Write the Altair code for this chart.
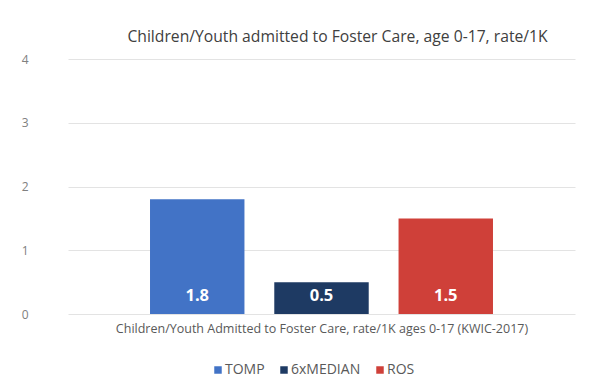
import altair as alt
import pandas as pd

categories = ["TOMP", "6xMEDIAN", "ROS"]
values = [1.8, 0.5, 1.5]
labels = ["1.8", "0.5", "1.5"]
colors = ["#4273C6", "#1E3A63", "#CF4039"]
y_ticks = [0, 1, 2, 3, 4]

df = pd.DataFrame({"cat": categories, "val": values, "lab": labels})

x = alt.X("cat:N", sort=categories,
          scale=alt.Scale(paddingInner=0.24, paddingOuter=0.66),
          axis=alt.Axis(title="Children/Youth Admitted to Foster Care, rate/1K ages 0-17 (KWIC-2017)",
                        labels=False, ticks=False, domain=False))

bars = alt.Chart(df).mark_bar().encode(
    x=x,
    y=alt.Y("val:Q", scale=alt.Scale(domain=[0, 4]),
            axis=alt.Axis(title=None, values=y_ticks, format="d")),
    color=alt.Color("cat:N", sort=categories,
                    scale=alt.Scale(domain=categories, range=colors),
                    legend=alt.Legend(title=None, orient="none", direction="horizontal",
                                      legendX=143, legendY=304,
                                      symbolType="square", symbolSize=56, symbolStrokeWidth=0,
                                      labelFont="Open Sans", labelFontSize=14, labelColor="#595959",
                                      columnPadding=12, labelOffset=0)),
)

text = alt.Chart(df).mark_text(font="Open Sans", fontSize=16.5, fontWeight="bold",
                               color="white", baseline="middle", dy=-18).encode(
    x=alt.X("cat:N", sort=categories),
    y=alt.datum(0),
    text="lab:N",
)

chart = (bars + text).properties(
    width=507, height=255,
    title=alt.Title("Children/Youth admitted to Foster Care, age 0-17, rate/1K",
                    font="Open Sans", fontSize=15.7, fontWeight="normal", color="#404040",
                    anchor="middle", dx=16, offset=7),
    padding={"left": 13, "top": 21, "right": 10, "bottom": 5},
    background="white",
).configure_view(stroke=None).configure_axisY(
    labelFont="Open Sans", labelFontSize=12, labelColor="#808080",
    labelAlign="right", labelPadding=40, ticks=False, domain=False,
    gridColor="#E3E3E3", gridWidth=1,
).configure_axisX(
    titleFont="Open Sans", titleFontSize=12.5, titleFontWeight="normal",
    titleColor="#595959", titlePadding=8, labels=False, ticks=False, domain=False,
)

chart.save("out.html", embed_options={"renderer": "svg", "actions": False})
